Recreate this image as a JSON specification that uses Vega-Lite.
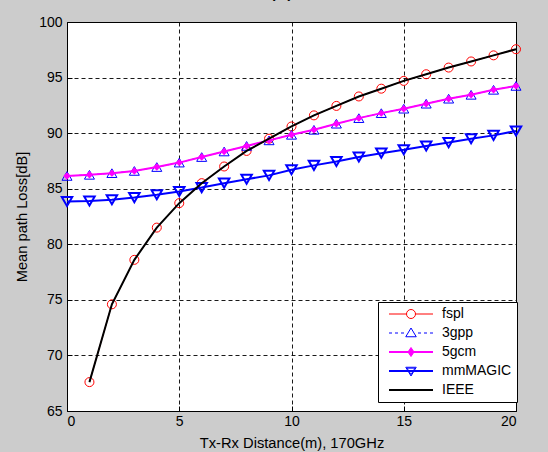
{
  "$schema": "https://vega.github.io/schema/vega-lite/v6.json",
  "width": 449,
  "height": 389,
  "autosize": "none",
  "padding": {"left": 67, "top": 22, "right": 32, "bottom": 41},
  "background": "#cccccc",
  "title": {"text": "(c)", "fontSize": 23, "font": "Liberation Sans", "fontWeight": "normal", "color": "#000000", "offset": 0, "baseline": "bottom", "dx": -10, "dy": 9},
  "config": {
    "view": {"fill": "white", "stroke": "black", "strokeWidth": 1},
    "axis": {
      "grid": true,
      "gridDash": [4, 3],
      "gridColor": "#000000",
      "gridOpacity": 0.9,
      "gridWidth": 1,
      "domain": false,
      "ticks": true,
      "tickSize": -5,
      "tickColor": "#000000",
      "labelFont": "Liberation Sans",
      "labelFontSize": 14,
      "labelColor": "#000000",
      "titleFont": "Liberation Sans",
      "titleFontSize": 14.7,
      "titleFontWeight": "normal",
      "titleColor": "#000000"
    }
  },
  "data": {
    "values": [
      {"model": "fspl", "d": 1, "loss": 67.6}, {"model": "fspl", "d": 2, "loss": 74.6}, {"model": "fspl", "d": 3, "loss": 78.6}, {"model": "fspl", "d": 4, "loss": 81.5}, {"model": "fspl", "d": 5, "loss": 83.7}, {"model": "fspl", "d": 6, "loss": 85.5}, {"model": "fspl", "d": 7, "loss": 87.0}, {"model": "fspl", "d": 8, "loss": 88.4}, {"model": "fspl", "d": 9, "loss": 89.5}, {"model": "fspl", "d": 10, "loss": 90.6}, {"model": "fspl", "d": 11, "loss": 91.6}, {"model": "fspl", "d": 12, "loss": 92.45}, {"model": "fspl", "d": 13, "loss": 93.3}, {"model": "fspl", "d": 14, "loss": 94.0}, {"model": "fspl", "d": 15, "loss": 94.7}, {"model": "fspl", "d": 16, "loss": 95.3}, {"model": "fspl", "d": 17, "loss": 95.9}, {"model": "fspl", "d": 18, "loss": 96.45}, {"model": "fspl", "d": 19, "loss": 97.0}, {"model": "fspl", "d": 20, "loss": 97.55},
      {"model": "3gpp", "d": 0, "loss": 86.15}, {"model": "3gpp", "d": 1, "loss": 86.25}, {"model": "3gpp", "d": 2, "loss": 86.4}, {"model": "3gpp", "d": 3, "loss": 86.6}, {"model": "3gpp", "d": 4, "loss": 86.95}, {"model": "3gpp", "d": 5, "loss": 87.35}, {"model": "3gpp", "d": 6, "loss": 87.85}, {"model": "3gpp", "d": 7, "loss": 88.35}, {"model": "3gpp", "d": 8, "loss": 88.85}, {"model": "3gpp", "d": 9, "loss": 89.35}, {"model": "3gpp", "d": 10, "loss": 89.85}, {"model": "3gpp", "d": 11, "loss": 90.3}, {"model": "3gpp", "d": 12, "loss": 90.85}, {"model": "3gpp", "d": 13, "loss": 91.35}, {"model": "3gpp", "d": 14, "loss": 91.8}, {"model": "3gpp", "d": 15, "loss": 92.2}, {"model": "3gpp", "d": 16, "loss": 92.65}, {"model": "3gpp", "d": 17, "loss": 93.1}, {"model": "3gpp", "d": 18, "loss": 93.45}, {"model": "3gpp", "d": 19, "loss": 93.9}, {"model": "3gpp", "d": 20, "loss": 94.25},
      {"model": "5gcm", "d": 0, "loss": 86.15}, {"model": "5gcm", "d": 1, "loss": 86.25}, {"model": "5gcm", "d": 2, "loss": 86.4}, {"model": "5gcm", "d": 3, "loss": 86.6}, {"model": "5gcm", "d": 4, "loss": 86.95}, {"model": "5gcm", "d": 5, "loss": 87.35}, {"model": "5gcm", "d": 6, "loss": 87.85}, {"model": "5gcm", "d": 7, "loss": 88.35}, {"model": "5gcm", "d": 8, "loss": 88.85}, {"model": "5gcm", "d": 9, "loss": 89.35}, {"model": "5gcm", "d": 10, "loss": 89.85}, {"model": "5gcm", "d": 11, "loss": 90.3}, {"model": "5gcm", "d": 12, "loss": 90.85}, {"model": "5gcm", "d": 13, "loss": 91.35}, {"model": "5gcm", "d": 14, "loss": 91.8}, {"model": "5gcm", "d": 15, "loss": 92.2}, {"model": "5gcm", "d": 16, "loss": 92.65}, {"model": "5gcm", "d": 17, "loss": 93.1}, {"model": "5gcm", "d": 18, "loss": 93.45}, {"model": "5gcm", "d": 19, "loss": 93.9}, {"model": "5gcm", "d": 20, "loss": 94.25},
      {"model": "mmMAGIC", "d": 0, "loss": 83.85}, {"model": "mmMAGIC", "d": 1, "loss": 83.9}, {"model": "mmMAGIC", "d": 2, "loss": 84.0}, {"model": "mmMAGIC", "d": 3, "loss": 84.2}, {"model": "mmMAGIC", "d": 4, "loss": 84.45}, {"model": "mmMAGIC", "d": 5, "loss": 84.75}, {"model": "mmMAGIC", "d": 6, "loss": 85.1}, {"model": "mmMAGIC", "d": 7, "loss": 85.5}, {"model": "mmMAGIC", "d": 8, "loss": 85.85}, {"model": "mmMAGIC", "d": 9, "loss": 86.2}, {"model": "mmMAGIC", "d": 10, "loss": 86.7}, {"model": "mmMAGIC", "d": 11, "loss": 87.1}, {"model": "mmMAGIC", "d": 12, "loss": 87.45}, {"model": "mmMAGIC", "d": 13, "loss": 87.85}, {"model": "mmMAGIC", "d": 14, "loss": 88.2}, {"model": "mmMAGIC", "d": 15, "loss": 88.5}, {"model": "mmMAGIC", "d": 16, "loss": 88.85}, {"model": "mmMAGIC", "d": 17, "loss": 89.15}, {"model": "mmMAGIC", "d": 18, "loss": 89.5}, {"model": "mmMAGIC", "d": 19, "loss": 89.8}, {"model": "mmMAGIC", "d": 20, "loss": 90.2},
      {"model": "IEEE", "d": 1, "loss": 67.6}, {"model": "IEEE", "d": 2, "loss": 74.6}, {"model": "IEEE", "d": 3, "loss": 78.6}, {"model": "IEEE", "d": 4, "loss": 81.5}, {"model": "IEEE", "d": 5, "loss": 83.7}, {"model": "IEEE", "d": 6, "loss": 85.5}, {"model": "IEEE", "d": 7, "loss": 87.0}, {"model": "IEEE", "d": 8, "loss": 88.4}, {"model": "IEEE", "d": 9, "loss": 89.5}, {"model": "IEEE", "d": 10, "loss": 90.6}, {"model": "IEEE", "d": 11, "loss": 91.6}, {"model": "IEEE", "d": 12, "loss": 92.45}, {"model": "IEEE", "d": 13, "loss": 93.3}, {"model": "IEEE", "d": 14, "loss": 94.0}, {"model": "IEEE", "d": 15, "loss": 94.7}, {"model": "IEEE", "d": 16, "loss": 95.3}, {"model": "IEEE", "d": 17, "loss": 95.9}, {"model": "IEEE", "d": 18, "loss": 96.45}, {"model": "IEEE", "d": 19, "loss": 97.0}, {"model": "IEEE", "d": 20, "loss": 97.55}
    ]
  },
  "encoding": {
    "x": {"field": "d", "type": "quantitative", "scale": {"domain": [0, 20], "nice": false}, "axis": {"values": [0, 5, 10, 15, 20], "title": "Tx-Rx Distance(m), 170GHz", "labelPadding": 8, "titlePadding": 7}},
    "y": {"field": "loss", "type": "quantitative", "scale": {"domain": [65, 100], "nice": false, "zero": false}, "axis": {"values": [65, 70, 75, 80, 85, 90, 95, 100], "title": "Mean path Loss[dB]", "labelPadding": 10, "titlePadding": 9}}
  },
  "layer": [
    {"transform": [{"filter": "datum.model === 'fspl'"}], "mark": {"type": "line", "color": "#ff0000", "strokeWidth": 1}},
    {"transform": [{"filter": "datum.model === 'fspl'"}], "mark": {"type": "point", "shape": "circle", "filled": false, "color": "#ff0000", "size": 81, "strokeWidth": 1, "opacity": 1}},
    {"transform": [{"filter": "datum.model === '3gpp'"}], "mark": {"type": "line", "color": "#0000ff", "strokeWidth": 1, "strokeDash": [3, 3]}},
    {"transform": [{"filter": "datum.model === '3gpp'"}], "mark": {"type": "point", "shape": "triangle-up", "filled": false, "color": "#0000ff", "size": 100, "strokeWidth": 1, "opacity": 1}},
    {"transform": [{"filter": "datum.model === '5gcm'"}], "mark": {"type": "line", "color": "#ff00ff", "strokeWidth": 2}},
    {"transform": [{"filter": "datum.model === '5gcm'"}], "mark": {"type": "point", "shape": "diamond", "filled": true, "color": "#ff00ff", "size": 55, "opacity": 1}},
    {"transform": [{"filter": "datum.model === 'mmMAGIC'"}], "mark": {"type": "line", "color": "#0000ff", "strokeWidth": 2}},
    {"transform": [{"filter": "datum.model === 'mmMAGIC'"}], "mark": {"type": "point", "shape": "triangle-down", "filled": false, "color": "#0000ff", "size": 110, "strokeWidth": 2, "opacity": 1}},
    {"transform": [{"filter": "datum.model === 'IEEE'"}], "mark": {"type": "line", "color": "#000000", "strokeWidth": 2}},
    {
      "transform": [{"filter": "datum.d < 0"}],
      "mark": {"type": "point", "filled": false, "size": 100, "strokeWidth": 1, "opacity": 1},
      "encoding": {
        "shape": {"field": "model", "type": "nominal",
          "scale": {"domain": ["fspl", "3gpp", "5gcm", "mmMAGIC", "IEEE"],
            "range": [
              "M-4.4,0H-0.9M0.9,0H4.4M0.9,0A0.9,0.9,0,1,1,-0.9,0A0.9,0.9,0,1,1,0.9,0Z",
              "M-4.4,0H-3.8M-3.2,0H-2.6M-2.0,0H-1.4M1.4,0H2.0M2.6,0H3.2M3.8,0H4.4M0,-1.0L1.05,0.75L-1.05,0.75Z",
              "M-4.4,-0.1H4.4M-4.4,0.1H4.4M0,-0.9L0.6,0L0,0.9L-0.6,0Z",
              "M-4.4,-0.1H4.4M-4.4,0.1H4.4M-1.05,-0.75L1.05,-0.75L0,1.0ZM-0.8,-0.57L0.8,-0.57L0,0.72Z",
              "M-4.4,-0.1H4.4M-4.4,0.1H4.4"
            ]},
          "legend": {"title": null, "orient": "none", "legendX": 311, "legendY": 280, "padding": 5, "symbolOffset": 21, "symbolSize": 100, "symbolStrokeWidth": 1, "labelFontSize": 14, "labelFont": "Liberation Sans", "labelColor": "#000000", "labelOffset": 24, "rowPadding": 5, "fillColor": "white", "strokeColor": "black", "cornerRadius": 0}},
        "stroke": {"field": "model", "type": "nominal",
          "scale": {"domain": ["fspl", "3gpp", "5gcm", "mmMAGIC", "IEEE"], "range": ["#ff0000", "#0000ff", "#ff00ff", "#0000ff", "#000000"]},
          "legend": {"title": null, "orient": "none", "legendX": 311, "legendY": 280, "padding": 5, "symbolOffset": 21, "symbolSize": 100, "symbolStrokeWidth": 1, "labelFontSize": 14, "labelFont": "Liberation Sans", "labelColor": "#000000", "labelOffset": 24, "rowPadding": 5, "fillColor": "white", "strokeColor": "black", "cornerRadius": 0}},
        "fill": {"field": "model", "type": "nominal",
          "scale": {"domain": ["fspl", "3gpp", "5gcm", "mmMAGIC", "IEEE"], "range": ["transparent", "transparent", "#ff00ff", "transparent", "transparent"]},
          "legend": {"title": null, "orient": "none", "legendX": 311, "legendY": 280, "padding": 5, "symbolOffset": 21, "symbolSize": 100, "symbolStrokeWidth": 1, "labelFontSize": 14, "labelFont": "Liberation Sans", "labelColor": "#000000", "labelOffset": 24, "rowPadding": 5, "fillColor": "white", "strokeColor": "black", "cornerRadius": 0}}
      }
    }
  ]
}
